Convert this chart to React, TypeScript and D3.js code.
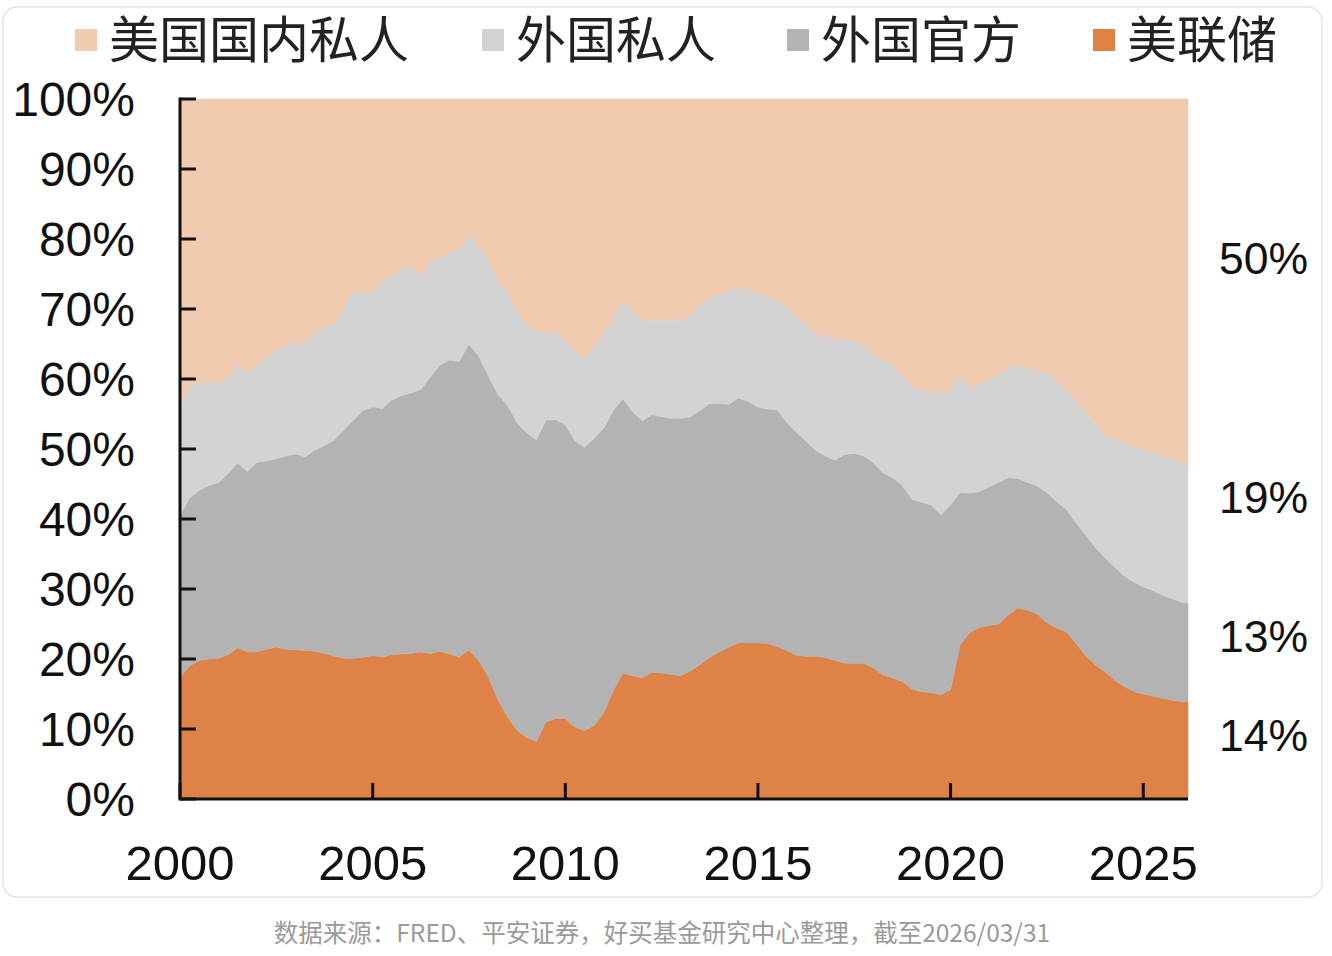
import * as React from 'react'
import * as d3 from 'd3'

// quarterly observations, last point = end of March 2026
const dates = [
  '2000-01', '2000-04', '2000-07', '2000-10', '2001-01', '2001-04', '2001-07', '2001-10',
  '2002-01', '2002-04', '2002-07', '2002-10', '2003-01', '2003-04', '2003-07', '2003-10',
  '2004-01', '2004-04', '2004-07', '2004-10', '2005-01', '2005-04', '2005-07', '2005-10',
  '2006-01', '2006-04', '2006-07', '2006-10', '2007-01', '2007-04', '2007-07', '2007-10',
  '2008-01', '2008-04', '2008-07', '2008-10', '2009-01', '2009-04', '2009-07', '2009-10',
  '2010-01', '2010-04', '2010-07', '2010-10', '2011-01', '2011-04', '2011-07', '2011-10',
  '2012-01', '2012-04', '2012-07', '2012-10', '2013-01', '2013-04', '2013-07', '2013-10',
  '2014-01', '2014-04', '2014-07', '2014-10', '2015-01', '2015-04', '2015-07', '2015-10',
  '2016-01', '2016-04', '2016-07', '2016-10', '2017-01', '2017-04', '2017-07', '2017-10',
  '2018-01', '2018-04', '2018-07', '2018-10', '2019-01', '2019-04', '2019-07', '2019-10',
  '2020-01', '2020-04', '2020-07', '2020-10', '2021-01', '2021-04', '2021-07', '2021-10',
  '2022-01', '2022-04', '2022-07', '2022-10', '2023-01', '2023-04', '2023-07', '2023-10',
  '2024-01', '2024-04', '2024-07', '2024-10', '2025-01', '2025-04', '2025-07', '2025-10',
  '2026-01', '2026-03',
]

// share of US Treasuries held, %
const fedShare = [
  17.4, 19, 19.8, 20, 20.1, 20.6, 21.6, 21,
  21, 21.4, 21.7, 21.4, 21.3, 21.2, 21.1, 20.8,
  20.4, 20.1, 20.1, 20.2, 20.5, 20.3, 20.6, 20.7,
  20.8, 21, 20.8, 21.1, 20.7, 20.3, 21.3, 19.8,
  17.5, 14.2, 11.7, 9.8, 8.8, 8.2, 11, 11.5,
  11.5, 10.3, 9.8, 10.5, 12.3, 15.5, 18, 17.6,
  17.3, 18.1, 18, 17.8, 17.6, 18.3, 19.2, 20.2,
  21, 21.7, 22.3, 22.3, 22.3, 22.2, 21.8, 21.2,
  20.5, 20.4, 20.4, 20.2, 19.8, 19.4, 19.4, 19.4,
  18.7, 17.7, 17.3, 16.8, 15.7, 15.3, 15.2, 14.9,
  15.6, 22, 23.8, 24.5, 24.8, 25, 26.3, 27.3,
  27, 26.4, 25.2, 24.4, 23.9, 22.3, 20.5, 19.2,
  18.2, 17, 16.1, 15.4, 15, 14.7, 14.4, 14.1,
  13.9, 13.9,
]
const foreignOfficialShare = [
  23.1, 24, 24.3, 24.8, 25.1, 25.9, 26.4, 25.8,
  27.1, 26.9, 26.9, 27.6, 28, 27.7, 28.7, 29.7,
  30.9, 32.6, 34, 35.3, 35.5, 35.5, 36.4, 36.9,
  37.2, 37.5, 39.5, 40.9, 42, 42.2, 43.7, 43.5,
  43, 43.6, 44.6, 43.9, 43.5, 43.1, 43.1, 42.7,
  42, 40.9, 40.5, 41, 40.7, 40, 39.2, 37.7,
  36.7, 36.8, 36.6, 36.6, 36.8, 36.3, 36.3, 36.3,
  35.5, 34.7, 35, 34.5, 33.7, 33.5, 33.8, 32.6,
  31.9, 30.7, 29.4, 28.8, 28.6, 29.8, 30, 29.6,
  29.3, 28.9, 28.6, 28, 27.1, 27.1, 26.8, 25.7,
  26.4, 21.8, 19.9, 19.4, 19.8, 20.2, 19.6, 18.5,
  18.2, 18.3, 18.6, 18.1, 17.5, 17.2, 17.3, 16.8,
  16.3, 16.2, 15.8, 15.6, 15.3, 15.1, 14.7, 14.5,
  14.2, 14.1,
]
const foreignPrivateShare = [
  15.5, 16, 15.4, 14.7, 14.4, 13.5, 14.3, 14.2,
  13.9, 14.7, 15.4, 15.8, 16, 16.1, 16.7, 17,
  16.7, 17.3, 18.3, 16.9, 16.6, 18, 17.8, 18.2,
  18, 16.3, 16.5, 15.5, 15.3, 16.1, 15.6, 15.7,
  16.5, 16.2, 16.2, 15.8, 15.5, 15.4, 12.6, 12.4,
  12, 12.8, 12.7, 13, 13.5, 13.5, 13.7, 14.5,
  14.4, 13.5, 13.8, 14, 14, 14.6, 15, 15.1,
  15.7, 16.3, 15.8, 16, 16.4, 16.1, 15.7, 16.5,
  16.6, 16.5, 16.8, 17, 17.4, 16.5, 16.2, 15.6,
  15.5, 16.1, 16.1, 15.7, 16.1, 16.1, 16.2, 17.4,
  16.3, 16.7, 15.2, 15.4, 15.3, 15.6, 15.6, 16.2,
  16.4, 16.6, 17.2, 17.3, 17.3, 17.5, 17.4, 17.8,
  17.5, 18.3, 18.9, 19.3, 19.7, 19.8, 19.9, 20,
  19.9, 19.5,
]
const domesticPrivateShare = [
  44, 41, 40.5, 40.5, 40.4, 40, 37.7, 39,
  38, 37, 36, 35.2, 34.7, 35, 33.5, 32.5,
  32, 30, 27.6, 27.6, 27.4, 26.2, 25.2, 24.2,
  24, 25.2, 23.2, 22.5, 22, 21.4, 19.4, 21,
  23, 26, 27.5, 30.5, 32.2, 33.3, 33.3, 33.4,
  34.5, 36, 37, 35.5, 33.5, 31, 29.1, 30.2,
  31.6, 31.6, 31.6, 31.6, 31.6, 30.8, 29.5, 28.4,
  27.8, 27.3, 26.9, 27.2, 27.6, 28.2, 28.7, 29.7,
  31, 32.4, 33.4, 34, 34.2, 34.3, 34.4, 35.4,
  36.5, 37.3, 38, 39.5, 41.1, 41.5, 41.8, 42,
  41.7, 39.5, 41.1, 40.7, 40.1, 39.2, 38.5, 38,
  38.4, 38.7, 39, 40.2, 41.3, 43, 44.8, 46.2,
  48, 48.5, 49.2, 49.7, 50, 50.4, 51, 51.4,
  52, 52.5,
]

// stack order, bottom to top
const holders = ['美联储', '外国官方', '外国私人', '美国国内私人']
const legendItems = ['美国国内私人', '外国私人', '外国官方', '美联储']
const holderColors = {
  '美国国内私人': '#f1cbb0',
  '外国私人': '#d3d3d3',
  '外国官方': '#b3b3b3',
  '美联储': '#de8247',
}
const yTicks = [0, 10, 20, 30, 40, 50, 60, 70, 80, 90, 100]
const xTicks = [2000, 2005, 2010, 2015, 2020, 2025]
// latest shares written at the right side, with the height (in %) where they sit
const endLabels = ['14%', '13%', '19%', '50%']
const endLabelAt = [9.1, 23.3, 43.1, 77.3]
const note = '数据来源：FRED、平安证券，好买基金研究中心整理，截至2026/03/31'

const W = 1332
const H = 956
const numFont = '"Liberation Sans", Arial, sans-serif'
const cjkFont = '"Noto Sans CJK SC", "Noto Sans", sans-serif'

const App = () => {
  const parse = d3.timeParse('%Y-%m')
  const rows = dates.map((d, i) => ({
    date: parse(d),
    '美联储': fedShare[i],
    '外国官方': foreignOfficialShare[i],
    '外国私人': foreignPrivateShare[i],
    '美国国内私人': domesticPrivateShare[i],
  }))

  const series = d3.stack().keys(holders).offset(d3.stackOffsetExpand)(rows)

  const x = d3.scaleTime()
    .domain(d3.extent(rows, d => d.date))
    .range([180, 1188])
  const y = d3.scaleLinear()
    .domain([0, 1])
    .range([799, 99])

  const area = d3.area()
    .x(d => x(d.data.date))
    .y0(d => y(d[0]))
    .y1(d => y(d[1]))

  const legendX = [75, 482, 787, 1093]

  return (
    <svg width={W} height={H} style={{position: 'absolute', left: 0, top: 0, background: '#fff'}}>
      <rect x={3} y={7} width={1319} height={890} rx={14} fill='#fff' stroke='#e4e4e4' strokeWidth={1.5}/>

      {legendItems.map((k, i) => (
        <g key={k} transform={`translate(${legendX[i]},40)`}>
          <rect x={0} y={-11} width={22} height={22} fill={holderColors[k]}/>
          <text x={34} y={0} dy='0.36em' fontFamily={cjkFont} fontSize={50} fill='#222'>{k}</text>
        </g>
      ))}

      {series.map(s => (
        <path key={s.key} d={area(s)} fill={holderColors[s.key]} stroke={holderColors[s.key]} strokeWidth={0.5}/>
      ))}

      {/* y axis */}
      <line x1={180} x2={180} y1={y(1) - 1.5} y2={y(0) + 1.5} stroke='#111' strokeWidth={3}/>
      {yTicks.map(t => (
        <g key={t}>
          <line x1={180} x2={196} y1={y(t / 100)} y2={y(t / 100)} stroke='#111' strokeWidth={3}/>
          <text x={135} y={y(t / 100)} dy='0.36em' textAnchor='end' fontFamily={numFont} fontSize={48} fill='#111'>{t}%</text>
        </g>
      ))}

      {/* x axis */}
      <line x1={180} x2={1188} y1={y(0)} y2={y(0)} stroke='#111' strokeWidth={3}/>
      {xTicks.map(t => {
        const px = x(new Date(t, 0, 1))
        return (
          <g key={t}>
            <line x1={px} x2={px} y1={y(0)} y2={y(0) - 16} stroke='#111' strokeWidth={3}/>
            <text x={px} y={862} dy='0.36em' textAnchor='middle' fontFamily={numFont} fontSize={49} fill='#111'>{t}</text>
          </g>
        )
      })}

      {endLabels.map((l, i) => (
        <text key={l} x={1219} y={y(endLabelAt[i] / 100)} dy='0.36em' fontFamily={numFont} fontSize={44.5} fill='#111'>{l}</text>
      ))}

      <text x={662} y={933} dy='0.36em' textAnchor='middle' fontFamily={cjkFont} fontSize={24.5} fill='#9a9a9a'>{note}</text>
    </svg>
  )
}

export default App
